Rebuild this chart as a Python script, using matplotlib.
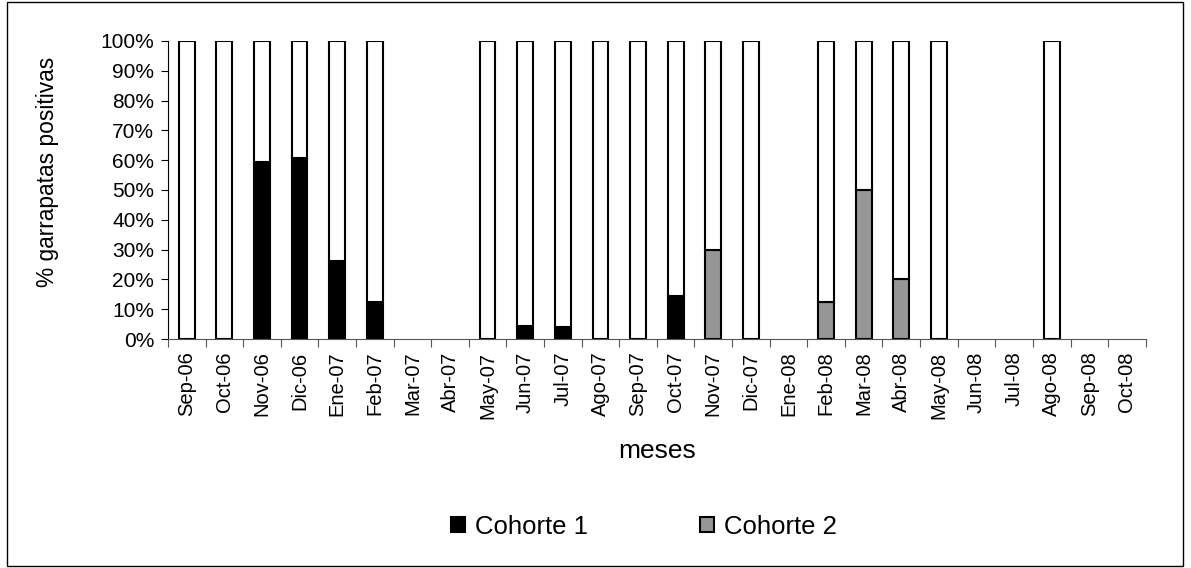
import numpy as np
import matplotlib.pyplot as plt
from matplotlib.patches import Rectangle

plt.rcParams['font.family'] = ['Liberation Sans', 'DejaVu Sans']

# datos
meses = ["Sep-06", "Oct-06", "Nov-06", "Dic-06", "Ene-07", "Feb-07", "Mar-07",
         "Abr-07", "May-07", "Jun-07", "Jul-07", "Ago-07", "Sep-07", "Oct-07",
         "Nov-07", "Dic-07", "Ene-08", "Feb-08", "Mar-08", "Abr-08", "May-08",
         "Jun-08", "Jul-08", "Ago-08", "Sep-08", "Oct-08"]
# NaN = mes sin muestreo
cohorte1 = [0, 0, 59.5, 60.7, 26.3, 12.5, np.nan, np.nan, 0, 4.5, 4.0, 0, 0, 14.6,
            0, 0, np.nan, 0, 0, 0, 0, np.nan, np.nan, 0, np.nan, np.nan]
cohorte2 = [0, 0, 0, 0, 0, 0, np.nan, np.nan, 0, 0, 0, 0, 0, 0,
            30.0, 0, np.nan, 12.5, 50.0, 20.0, 0, np.nan, np.nan, 0, np.nan, np.nan]

c1 = np.array(cohorte1)
c2 = np.array(cohorte2)
resto = 100 - c1 - c2
x = np.arange(len(meses))
ancho = 0.42

fig = plt.figure(figsize=(11.91, 5.68), dpi=100)
ax = fig.add_axes([0.141, 0.403, 0.821, 0.525])

kw = dict(width=ancho, edgecolor="black", linewidth=1.5)
ax.bar(x, c1, color="black", label="Cohorte 1", **kw)
ax.bar(x, c2, bottom=c1, color="#969696", label="Cohorte 2", **kw)
ax.bar(x, resto, bottom=c1 + c2, color="white", **kw)

ax.set_ylim(0, 100)
ax.set_xlim(-0.5, len(meses) - 0.5)
ax.set_yticks(np.arange(0, 101, 10))
ax.set_yticklabels([f"{v}%" for v in range(0, 101, 10)], fontsize=15)

# marcas del eje x entre categorias
ax.set_xticks(np.arange(-0.5, len(meses), 1.0))
ax.set_xticklabels([])
ax.set_xticks(x, minor=True)
ax.set_xticklabels(meses, minor=True, rotation=90, fontsize=14.5)
ax.tick_params(axis="x", which="minor", length=0, pad=9)
ax.tick_params(axis="x", which="major", length=6, direction="out", color="#555555")
ax.tick_params(axis="y", length=5, direction="out", pad=5)

for lado in ["top", "right"]:
    ax.spines[lado].set_visible(False)
ax.spines["bottom"].set_color("#555555")

ax.set_ylabel("% garrapatas positivas", fontsize=16.4)
ax.yaxis.set_label_coords(-0.111, 0.56)
fig.text(0.552, 0.206, "meses", fontsize=19, ha="center", va="center")

h, l = ax.get_legend_handles_labels()
fig.legend(h, l, loc="center", bbox_to_anchor=(0.541, 0.073), ncol=2,
           frameon=False, fontsize=18.5, handlelength=0.545, handleheight=0.545,
           handletextpad=0.39, columnspacing=4.36)

# marco exterior
fig.patches.append(Rectangle((0.006, 0.003), 0.987, 0.994, transform=fig.transFigure,
                             fill=False, edgecolor="black", linewidth=1))

fig.savefig("out.png", dpi=100)
